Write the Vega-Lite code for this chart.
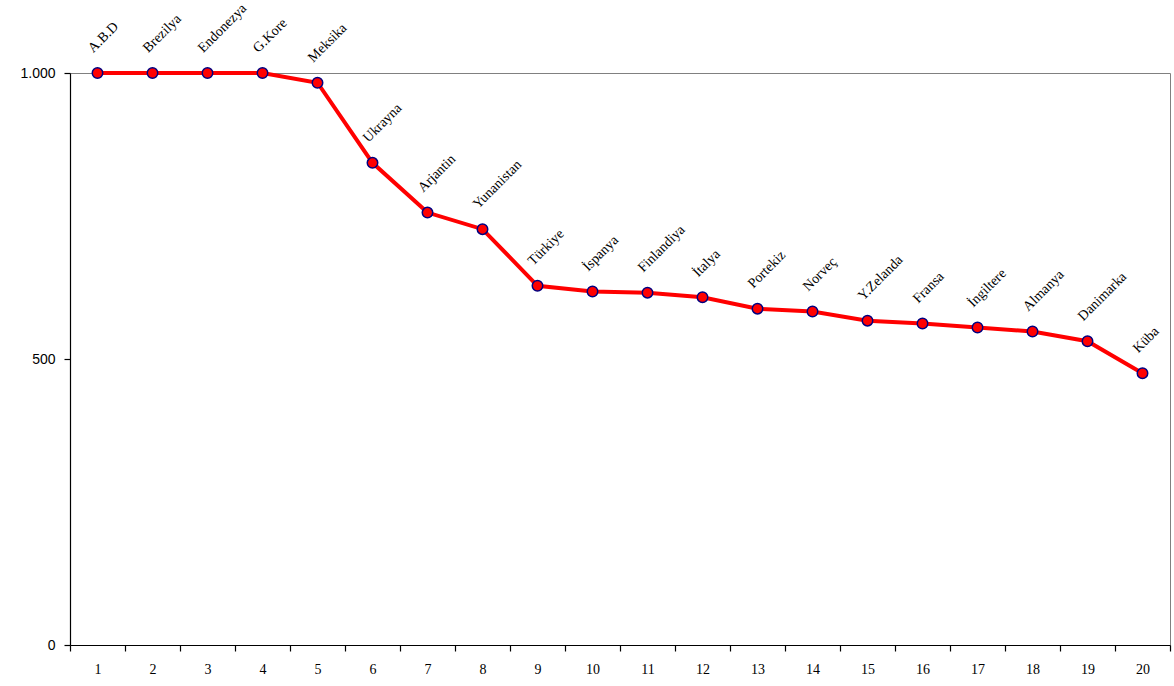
{
  "$schema": "https://vega.github.io/schema/vega-lite/v6.json",
  "width": 1100,
  "height": 572,
  "autosize": {"type": "none"},
  "padding": {"left": 70, "top": 73, "right": 4, "bottom": 41},
  "background": "white",
  "config": {
    "view": {"stroke": "#808080", "strokeWidth": 1}
  },
  "data": {
    "values": [
      {"n": 1, "ulke": "A.B.D", "deger": 1000},
      {"n": 2, "ulke": "Brezilya", "deger": 1000},
      {"n": 3, "ulke": "Endonezya", "deger": 1000},
      {"n": 4, "ulke": "G.Kore", "deger": 1000},
      {"n": 5, "ulke": "Meksika", "deger": 983},
      {"n": 6, "ulke": "Ukrayna", "deger": 843},
      {"n": 7, "ulke": "Arjantin", "deger": 756},
      {"n": 8, "ulke": "Yunanistan", "deger": 727},
      {"n": 9, "ulke": "Türkiye", "deger": 628},
      {"n": 10, "ulke": "İspanya", "deger": 618},
      {"n": 11, "ulke": "Finlandiya", "deger": 616},
      {"n": 12, "ulke": "İtalya", "deger": 608},
      {"n": 13, "ulke": "Portekiz", "deger": 588},
      {"n": 14, "ulke": "Norveç", "deger": 583},
      {"n": 15, "ulke": "Y.Zelanda", "deger": 567},
      {"n": 16, "ulke": "Fransa", "deger": 562},
      {"n": 17, "ulke": "İngiltere", "deger": 555},
      {"n": 18, "ulke": "Almanya", "deger": 548},
      {"n": 19, "ulke": "Danimarka", "deger": 531},
      {"n": 20, "ulke": "Küba", "deger": 475}
    ]
  },
  "encoding": {
    "x": {
      "field": "n",
      "type": "ordinal",
      "sort": null,
      "scale": {"type": "band", "paddingInner": 0, "paddingOuter": 0},
      "axis": {
        "title": null,
        "labelAngle": 0,
        "tickBand": "extent",
        "domainColor": "#000000",
        "domainWidth": 1.2,
        "tickColor": "#000000",
        "tickWidth": 1.2,
        "tickSize": 6,
        "labelFont": "Liberation Serif",
        "labelFontSize": 14,
        "labelColor": "#000000",
        "labelPadding": 11,
        "grid": false
      }
    },
    "y": {
      "field": "deger",
      "type": "quantitative",
      "scale": {"domain": [0, 1000], "nice": false},
      "axis": {
        "title": null,
        "values": [0, 500, 1000],
        "labelExpr": "datum.value == 1000 ? '1.000' : datum.label",
        "grid": false,
        "domainColor": "#000000",
        "domainWidth": 1.2,
        "tickColor": "#000000",
        "tickWidth": 1.2,
        "tickSize": 6,
        "labelFont": "Liberation Sans",
        "labelFontSize": 14,
        "labelColor": "#000000",
        "labelPadding": 9
      }
    }
  },
  "layer": [
    {"mark": {"type": "line", "color": "#FF0000", "strokeWidth": 4}},
    {"mark": {"type": "point", "filled": true, "fill": "#FF0000", "stroke": "#000080", "strokeWidth": 1.5, "size": 110, "opacity": 1}},
    {
      "mark": {"type": "text", "angle": -45, "align": "left", "baseline": "alphabetic", "dx": 11, "dy": -17, "font": "Liberation Serif", "fontSize": 14, "color": "#000000"},
      "encoding": {"text": {"field": "ulke"}}
    }
  ]
}
